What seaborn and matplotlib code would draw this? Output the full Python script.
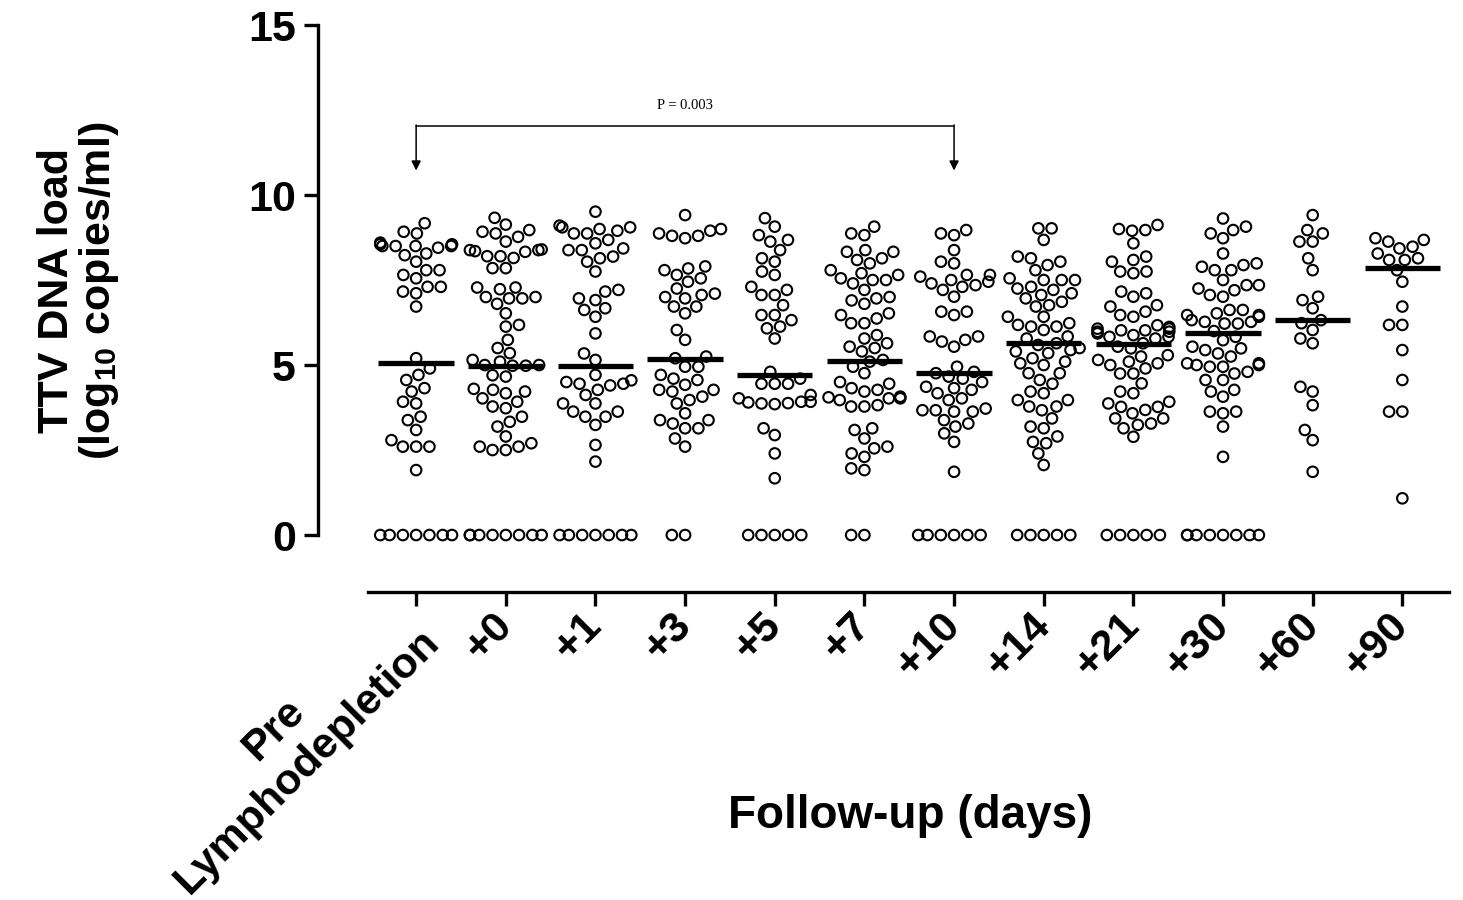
import warnings
import pandas as pd
import numpy as np
import matplotlib
matplotlib.use("Agg")
import matplotlib.pyplot as plt
import seaborn as sns

warnings.filterwarnings("ignore")

# values (log10 copies/ml)
labels = ["Pre\nLymphodepletion", "+0", "+1", "+3", "+5", "+7", "+10",
          "+14", "+21", "+30", "+60", "+90"]

pre_vals = [9.17, 8.92, 8.87, 8.6, 8.55, 8.5, 8.5, 8.5, 8.5, 8.55, 8.45,
            8.28, 8.23, 8.04, 7.79, 7.79, 7.65, 7.55, 7.30, 7.30, 7.16, 7.11, 6.72,
            5.20, 4.90, 4.71, 4.56, 4.32, 4.22, 3.92, 3.87, 3.48, 3.38, 3.09, 2.79,
            2.60, 2.60, 2.60, 1.91, 0, 0, 0, 0, 0, 0, 0]
d0_vals = [9.33, 9.13, 8.97, 8.92, 8.87, 8.77, 8.63, 8.38, 8.38, 8.35, 8.33, 8.4,
           8.2, 8.15, 8.2, 7.85, 7.85, 7.28, 7.28, 7.23, 7.0, 7.0, 6.96, 6.8, 6.96,
           6.52, 6.18, 6.13, 5.74, 5.5, 5.35, 5.15, 5.1, 5.0, 4.98, 4.98, 5.0, 4.7,
           4.66, 4.3, 4.27, 4.22, 4.17, 4.02, 3.92, 3.78, 3.73, 3.48, 3.33, 3.19,
           2.9, 2.7, 2.6, 2.5, 2.5, 2.6, 0, 0, 0, 0, 0, 0, 0, 0]
d1_vals = [9.51, 9.1, 9.05, 9.05, 8.95, 9.0, 8.87, 8.87, 8.68, 8.58, 8.43, 8.38,
           8.38, 8.19, 8.14, 8.04, 7.75, 7.21, 7.16, 6.96, 6.91, 6.67, 6.62, 6.42,
           5.93, 5.34, 5.15, 4.71, 4.5, 4.4, 4.45, 4.45, 4.55, 4.27, 4.12, 3.87,
           3.87, 3.63, 3.48, 3.48, 3.63, 3.24, 2.65, 2.16, 0, 0, 0, 0, 0, 0, 0]
d3_vals = [9.41, 8.95, 9.0, 8.87, 8.8, 8.73, 8.8, 7.9, 7.79, 7.65, 7.84, 7.55,
           7.45, 7.25, 7.1, 7.06, 6.96, 7.0, 6.72, 6.72, 6.52, 6.03, 5.74, 5.25,
           5.2, 4.95, 4.95, 4.71, 4.6, 4.56, 4.42, 4.27, 4.22, 4.27, 4.07, 3.97,
           3.87, 3.58, 3.38, 3.38, 3.28, 3.14, 3.14, 2.84, 2.6, 0, 0]
d5_vals = [9.32, 9.07, 8.82, 8.68, 8.63, 8.38, 8.14, 8.04, 7.75, 7.65, 7.3, 7.21,
           7.06, 7.06, 6.76, 6.47, 6.47, 6.32, 6.13, 6.08, 5.78, 4.8, 4.6, 4.45,
           4.45, 4.45, 4.12, 4.02, 3.92, 3.9, 3.88, 3.85, 3.87, 3.92, 3.14, 2.94,
           2.4, 1.67, 0, 0, 0, 0, 0]
d7_vals = [9.07, 8.82, 8.87, 8.33, 8.38, 8.33, 8.14, 8.09, 7.99, 7.79, 7.65, 7.7,
           7.55, 7.5, 7.4, 7.5, 7.21, 7.0, 6.9, 6.96, 6.8, 6.52, 6.37, 6.23, 6.23,
           6.47, 5.88, 5.78, 5.64, 5.54, 5.5, 5.4, 5.1, 5.15, 4.95, 4.76, 4.45, 4.5,
           4.32, 4.27, 4.22, 4.07, 4.02, 4.05, 3.97, 4.02, 3.78, 3.78, 3.82, 3.14,
           3.09, 2.84, 2.55, 2.6, 2.4, 2.3, 1.96, 1.91, 0, 0]
d10_vals = [8.97, 8.82, 8.87, 8.38, 7.99, 8.04, 7.65, 7.6, 7.65, 7.5, 7.45, 7.4,
            7.35, 7.3, 7.21, 7.01, 6.57, 6.47, 6.57, 5.84, 5.74, 5.54, 5.69, 5.84,
            4.95, 4.76, 4.8, 4.6, 4.66, 4.5, 4.36, 4.32, 4.27, 4.17, 4.02, 3.97,
            3.67, 3.63, 3.63, 3.67, 3.72, 3.38, 3.28, 3.19, 2.99, 2.74, 1.86,
            0, 0, 0, 0, 0, 0]
d14_vals = [9.02, 9.02, 8.68, 8.14, 8.19, 8.04, 7.94, 7.79, 7.55, 7.5, 7.5, 7.5,
            7.3, 7.25, 7.21, 7.11, 7.06, 6.96, 6.86, 6.76, 6.72, 6.42, 6.42, 6.23,
            6.18, 6.13, 6.03, 6.13, 5.84, 5.78, 5.64, 5.59, 5.5, 5.44, 5.4, 5.35,
            5.2, 5.0, 5.1, 5.05, 4.76, 4.76, 4.56, 4.45, 4.22, 4.17, 3.97, 3.97,
            3.78, 3.67, 3.78, 3.43, 3.19, 3.14, 2.9, 2.7, 2.74, 2.4, 2.06,
            0, 0, 0, 0, 0]
d21_vals = [9.12, 9.0, 8.97, 8.95, 8.58, 8.04, 8.19, 8.09, 7.75, 7.7, 7.75, 7.16,
            7.01, 7.11, 6.72, 6.47, 6.42, 6.57, 6.76, 6.17, 6.07, 6.02, 5.98, 5.93,
            5.98, 6.02, 6.07, 6.12, 5.88, 5.83, 5.78, 5.83, 5.64, 5.54, 5.49, 5.25,
            5.1, 5.29, 5.05, 5.15, 4.9, 4.75, 4.75, 5.0, 4.46, 4.22, 4.17, 3.92,
            3.87, 3.77, 3.77, 3.68, 3.58, 3.43, 3.43, 3.28, 3.24, 3.14, 2.89,
            0, 0, 0, 0, 0]
d30_vals = [9.31, 9.07, 8.97, 8.87, 8.73, 8.28, 7.99, 7.94, 7.79, 7.79, 7.89, 7.5,
            7.35, 7.35, 7.25, 7.2, 7.06, 7.01, 6.62, 6.47, 6.47, 6.52, 6.62, 6.42,
            6.27, 6.22, 6.22, 6.27, 6.32, 6.0, 5.83, 5.73, 5.54, 5.44, 5.49, 5.34,
            5.25, 5.05, 5.05, 5.0, 4.95, 5.0, 4.95, 4.75, 4.56, 4.56, 4.8, 4.27,
            4.22, 4.07, 3.63, 3.58, 3.63, 3.19, 2.3, 0, 0, 0, 0, 0, 0, 0, 0]
d60_vals = [9.41, 8.87, 8.97, 8.63, 8.63, 8.14, 7.79, 6.91, 7.01, 6.67, 6.32, 6.23,
            6.03, 5.64, 5.78, 4.36, 4.22, 3.82, 3.09, 2.79, 1.86]
d90_vals = [8.73, 8.63, 8.68, 8.43, 8.48, 8.28, 8.14, 8.09, 8.09, 7.79, 7.45, 6.72,
            6.18, 6.18, 5.44, 4.56, 3.63, 3.63, 1.08]

# horizontal bar for each group as drawn in the figure
center_vals = [5.07, 4.97, 4.97, 5.17, 4.71, 5.12, 4.77, 5.66, 5.62, 5.93, 6.32, 7.84]

groups = [pre_vals, d0_vals, d1_vals, d3_vals, d5_vals, d7_vals, d10_vals,
          d14_vals, d21_vals, d30_vals, d60_vals, d90_vals]

rows = []
for lab, vals in zip(labels, groups):
    for v in vals:
        rows.append((lab, v))
df = pd.DataFrame(rows, columns=["Follow-up", "TTV"])

sns.set_style("white")
plt.rcParams["font.family"] = ["Liberation Sans", "DejaVu Sans"]
plt.rcParams["font.weight"] = "bold"
plt.rcParams["text.color"] = "black"
plt.rcParams["mathtext.fontset"] = "custom"
plt.rcParams["mathtext.rm"] = "Liberation Sans:bold"
plt.rcParams["mathtext.bf"] = "Liberation Sans:bold"
plt.rcParams["mathtext.default"] = "rm"

FS = 31

fig = plt.figure(figsize=(14.63, 9), dpi=100)
ax = fig.add_axes([0.2174, 0.3422, 0.773, 0.63])

sns.swarmplot(data=df, x="Follow-up", y="TTV", order=labels, size=7.6,
              color="black", linewidth=1.5, ax=ax)
for coll in ax.collections:
    coll.set_facecolor("none")
    coll.set_edgecolor("black")
    coll.set_linewidth(1.5)

xs = np.arange(len(labels))
ax.hlines(center_vals, xs - 0.42, xs + 0.42, colors="black", lw=3.8, zorder=5)

# significance bracket between Pre and +10
ax.plot([0, 6], [12.03, 12.03], color="black", lw=1.1)
for xb in [0, 6]:
    ax.annotate("", xy=(xb, 10.72), xytext=(xb, 12.06),
                arrowprops=dict(arrowstyle="-|>", color="black", lw=1.1,
                                mutation_scale=14, shrinkA=0, shrinkB=0))
ax.text(3, 12.45, "P = 0.003", ha="center", va="bottom", fontsize=10.5,
        family="Liberation Serif", fontweight="normal", color="black")

ax.set_xlim(-1.094, 11.52)
ax.set_ylim(-1.676, 15)
ax.set_yticks([0, 5, 10, 15])
ax.set_xticks(xs)
ax.set_xticklabels(labels, rotation=45, ha="right", va="center",
                   rotation_mode="anchor", multialignment="center")

sns.despine(ax=ax)
ax.spines["left"].set_bounds(0, 15)
ax.spines["bottom"].set_bounds(-0.536, 11.52)
for sp in ["left", "bottom"]:
    ax.spines[sp].set_linewidth(2.4)
    ax.spines[sp].set_color("black")

ax.tick_params(axis="both", which="major", direction="out", length=10,
               width=2.4, color="black", labelsize=FS, labelcolor="black")
ax.tick_params(axis="x", pad=10)
ax.tick_params(axis="y", pad=6, left=True)
ax.tick_params(axis="x", bottom=True)
for t in ax.get_xticklabels() + ax.get_yticklabels():
    t.set_fontweight("bold")

ax.set_xlabel("")
ax.set_ylabel("")
fig.text(0.622, 0.093, "Follow-up (days)", ha="center", va="center",
         fontsize=FS + 2, fontweight="bold", color="black")
fig.text(0.054, 0.677, "TTV DNA load\n(log$_{10}$ copies/ml)", rotation=90,
         ha="center", va="center", multialignment="center", fontsize=FS,
         fontweight="bold", linespacing=1.0, color="black")

fig.savefig("out.png", dpi=100)
